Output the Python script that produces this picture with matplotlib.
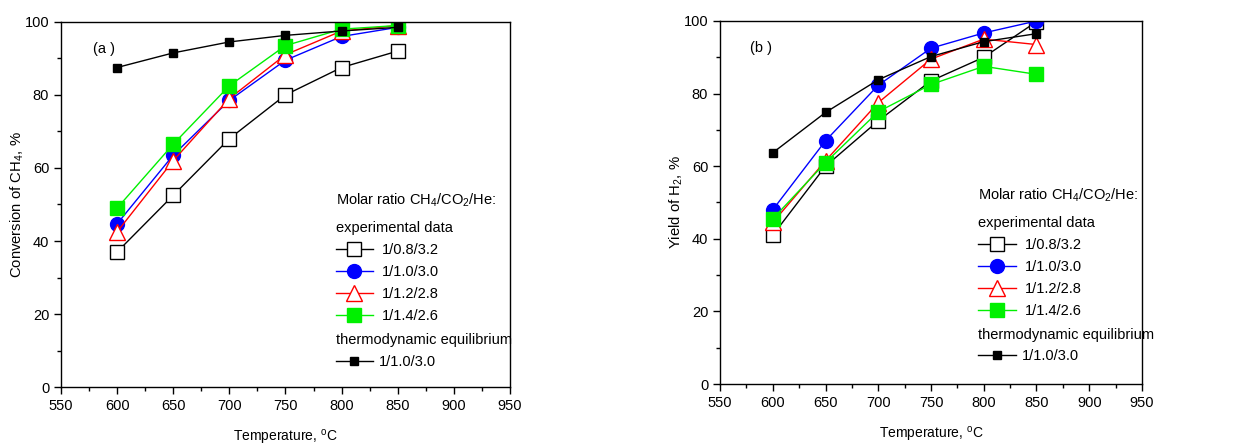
import matplotlib.pyplot as plt
from matplotlib.ticker import MultipleLocator

plt.rcParams["font.family"] = ["Liberation Sans", "DejaVu Sans"]
plt.rcParams["mathtext.fontset"] = "custom"
plt.rcParams["mathtext.rm"] = "Liberation Sans"

temps = [600, 650, 700, 750, 800, 850]

# (a) conversion of CH4, %
conv_08 = [37.0, 52.5, 68.0, 80.0, 87.5, 92.0]
conv_10 = [44.7, 63.5, 78.5, 89.5, 96.0, 98.5]
conv_12 = [42.5, 62.0, 79.0, 91.0, 97.5, 99.0]
conv_14 = [49.0, 66.5, 82.5, 93.5, 98.0, 99.0]
conv_eq = [87.5, 91.5, 94.5, 96.3, 97.5, 98.5]

# (b) yield of H2, %
yield_08 = [41.0, 60.0, 72.5, 83.5, 90.0, 99.8]
yield_10 = [48.0, 67.0, 82.3, 92.5, 96.7, 100.0]
yield_12 = [44.5, 61.5, 77.5, 89.5, 95.0, 93.5]
yield_14 = [45.5, 61.0, 75.0, 82.5, 87.5, 85.3]
yield_eq = [63.7, 74.8, 83.8, 90.2, 94.3, 96.5]

labels = ["1/0.8/3.2", "1/1.0/3.0", "1/1.2/2.8", "1/1.4/2.6"]
styles = [
    dict(color="black", marker="s", mfc="white", mec="black", ms=9.5, mew=1.0),
    dict(color="blue", marker="o", mfc="blue", mec="blue", ms=10),
    dict(color="red", marker="^", mfc="white", mec="red", ms=11, mew=1.0),
    dict(color="#00f000", marker="s", mfc="#00f000", mec="#00f000", ms=9.5),
]


def panel(ax, series, eq, ylabel, tag, leg_y, eq_y):
    handles = []
    for vals, lab, st in zip(series, labels, styles):
        (h,) = ax.plot(temps, vals, lw=1.0, label=lab, **st)
        handles.append(h)
    (heq,) = ax.plot(temps, eq, color="black", lw=1.0, marker="s", ms=5.5,
                     mfc="black", mec="black", label="1/1.0/3.0")

    ax.set_xlim(550, 950)
    ax.set_ylim(0, 100)
    ax.xaxis.set_major_locator(MultipleLocator(50))
    ax.xaxis.set_minor_locator(MultipleLocator(25))
    ax.yaxis.set_major_locator(MultipleLocator(20))
    ax.yaxis.set_minor_locator(MultipleLocator(10))
    ax.tick_params(which="both", direction="out", top=False, right=False,
                   labelsize=10.5, width=1.0)
    ax.tick_params(which="major", length=5)
    ax.tick_params(which="minor", length=3)
    for sp in ax.spines.values():
        sp.set_linewidth(1.0)
    ax.set_xlabel(r"Temperature, $^{\rm o}$C", fontsize=10, labelpad=11)
    ax.set_ylabel(ylabel, fontsize=10.7, labelpad=-1)
    ax.text(0.072, 0.945, tag, transform=ax.transAxes, fontsize=10.5, va="top")

    # legend: header + experimental series, then equilibrium block below
    leg1 = ax.legend(handles=handles, loc="upper left", bbox_to_anchor=(0.605, leg_y),
                     title="Molar ratio CH$_4$/CO$_2$/He:\nexperimental data",
                     alignment="left", frameon=False, fontsize=10.5,
                     title_fontsize=10.5, handlelength=2.6, handletextpad=0.6,
                     labelspacing=0.55, borderaxespad=0, borderpad=0.2)
    leg1.get_title().set_linespacing(2.1)
    ax.add_artist(leg1)
    ax.legend(handles=[heq], loc="upper left", bbox_to_anchor=(0.605, eq_y),
              title="thermodynamic equilibrium", alignment="left", frameon=False,
              fontsize=10.5, title_fontsize=10.5, handlelength=2.6,
              handletextpad=0.4, borderaxespad=0, borderpad=0.2,
              labelspacing=0.5)


fig = plt.figure(figsize=(12.49, 4.46), dpi=100)
ax_a = fig.add_axes([0.0488, 0.132, 0.3595, 0.819])
ax_b = fig.add_axes([0.5765, 0.139, 0.3378, 0.814])

panel(ax_a, [conv_08, conv_10, conv_12, conv_14], conv_eq,
      "Conversion of CH$_4$, %", "(a )", 0.545, 0.155)
panel(ax_b, [yield_08, yield_10, yield_12, yield_14], yield_eq,
      "Yield of H$_2$, %", "(b )", 0.553, 0.162)

fig.savefig("out.png", dpi=100)
